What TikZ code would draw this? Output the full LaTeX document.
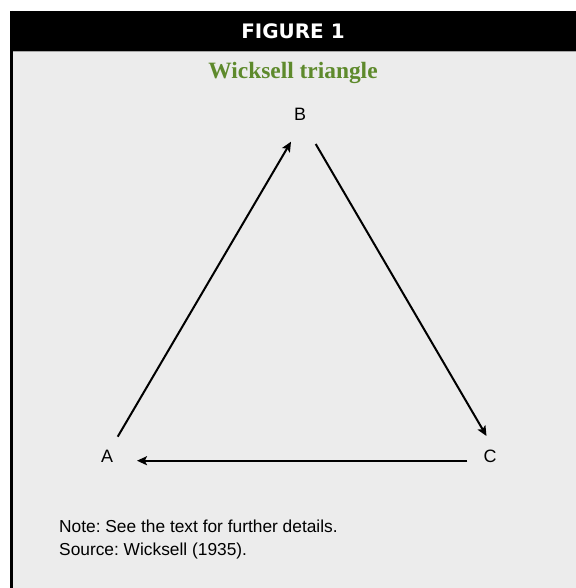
\documentclass[tikz,border=0pt]{standalone}
\usepackage{fontspec}
\setmainfont{Liberation Sans}
\newfontfamily\titlefont{Liberation Serif}
\newfontfamily\headfont{DejaVu Sans}
\usetikzlibrary{arrows.meta}
\definecolor{panelgray}{HTML}{ECECEC}
\definecolor{titlegreen}{HTML}{5E8A2C}
\frenchspacing
\tikzset{
  lbl/.style={font=\fontsize{18}{21}\selectfont, inner sep=0pt},
  arr/.style={line width=2bp, -{Stealth[length=10bp,width=9bp,inset=2.2bp]}},
  notetext/.style={font=\fontsize{17.4}{20}\selectfont, anchor=base west, inner sep=0pt}
}
\begin{document}
\begin{tikzpicture}[x=1bp,y=-1bp]
\useasboundingbox (0,0) rectangle (576,588);
\fill[white] (0,0) rectangle (576,588);
\fill[panelgray] (10,51) rectangle (576,588);
\fill[black] (10,11) rectangle (576,51);
\draw[gray!70, line width=0.8bp] (10,51) -- (576,51);
\draw[black, line width=3bp] (11.5,11) -- (11.5,588);
\node[text=white, font=\headfont\bfseries\fontsize{20}{22}\selectfont, inner sep=0pt] (head) at (293,31) {FIGURE 1};
\node[text=titlegreen, font=\titlefont\bfseries\fontsize{23.5}{26}\selectfont, anchor=base, inner sep=0pt] (title) at (293,79) {Wicksell triangle};
\node[lbl] (B) at (300,114.5) {B};
\node[lbl] (A) at (107,456) {A};
\node[lbl] (C) at (490,456) {C};
\coordinate (ab1) at (117.7,436.7);
\coordinate (ab2) at (291,141.7);
\coordinate (bc1) at (315.7,144);
\coordinate (bc2) at (486.5,436);
\coordinate (ca1) at (467.3,460.7);
\coordinate (ca2) at (137,460.7);
\draw[arr] (ab1) -- (ab2);
\draw[arr] (bc1) -- (bc2);
\draw[arr] (ca1) -- (ca2);
\node[notetext] (note) at (59,532) {Note: See the text for further details.};
\node[notetext] (source) at (59,555) {Source: Wicksell (1935).};
\end{tikzpicture}
\end{document}
